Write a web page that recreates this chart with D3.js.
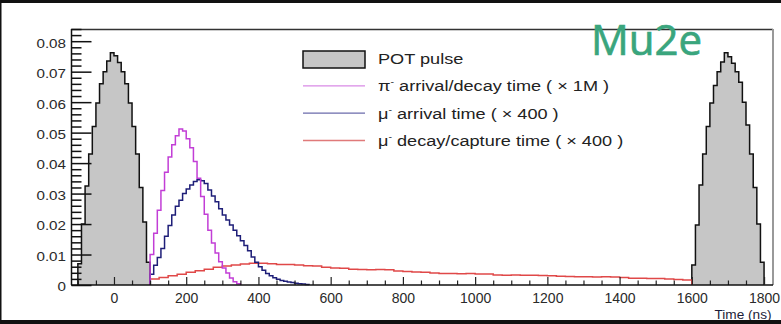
<!DOCTYPE html>
<html>
<head>
<meta charset="utf-8">
<script src="https://cdn.jsdelivr.net/npm/d3@7"></script>
<style>
  html, body { margin: 0; padding: 0; background: #fff; }
  svg { display: block; }
</style>
</head>
<body>
<div id="chart"></div>
<script>
// ---------------- data ----------------
const xTickValues = [0, 200, 400, 600, 800, 1000, 1200, 1400, 1600, 1800];
const yTickValues = [0, 0.01, 0.02, 0.03, 0.04, 0.05, 0.06, 0.07, 0.08];
const yTickLabels = ["0", "0.01", "0.02", "0.03", "0.04", "0.05", "0.06", "0.07", "0.08"];

// POT pulse histograms (10 ns bins)
const potBin = 10;
const potLeftStart = -100;
const potLeft = [0.0070, 0.0200, 0.0325, 0.0430, 0.0520, 0.0597, 0.0660, 0.0700, 0.0735, 0.0762,
                 0.0752, 0.0730, 0.0700, 0.0660, 0.0597, 0.0520, 0.0430, 0.0320, 0.0207, 0.0075];
const potRightStart = 1600;
const potRight = [0.0066, 0.0197, 0.0328, 0.0430, 0.0520, 0.0597, 0.0655, 0.0700, 0.0732, 0.0762,
                  0.0749, 0.0728, 0.0700, 0.0665, 0.0600, 0.0525, 0.0430, 0.0320, 0.0200, 0.0075];

// pi- arrival/decay time (x 1M), 10 ns bins from 100 ns
const piStart = 100, piBin = 10;
const piValues = [0.0100, 0.0170, 0.0245, 0.0310, 0.0370, 0.0420, 0.0460, 0.0490, 0.0512, 0.0505,
                  0.0480, 0.0450, 0.0405, 0.0350, 0.0290, 0.0232, 0.0180, 0.0138, 0.0105, 0.0076,
                  0.0056, 0.0039, 0.0023, 0.0011, 0.0004];

// mu- arrival time (x 400), 10 ns bins from 100 ns
const muArrStart = 100, muArrBin = 10;
const muArrValues = [0.0035, 0.0065, 0.0090, 0.0120, 0.0160, 0.0195, 0.0230, 0.0258, 0.0278, 0.0300,
                     0.0315, 0.0328, 0.0340, 0.0345, 0.0342, 0.0333, 0.0312, 0.0292, 0.0273, 0.0250,
                     0.0230, 0.0213, 0.0197, 0.0180, 0.0162, 0.0145, 0.0130, 0.0112, 0.0092, 0.0075,
                     0.0060, 0.0048, 0.0038, 0.0030, 0.0024, 0.0019, 0.0015, 0.0012, 0.0010, 0.0008,
                     0.0006, 0.0004, 0.0003, 0.0002];

// mu- decay/capture time (x 400), 25 ns bins from 100 ns
const muDecStart = 100, muDecBin = 25;
const muDecValues = [0.0020, 0.0025, 0.0030, 0.0035, 0.0042, 0.0047, 0.0052, 0.0058, 0.0062, 0.0066,
                     0.0069, 0.0071, 0.0071, 0.0070, 0.0067, 0.0067, 0.0066, 0.0063, 0.0062, 0.0058,
                     0.0056, 0.0055, 0.0052, 0.0051, 0.0050, 0.0051, 0.0050, 0.0046, 0.0044, 0.0043,
                     0.0042, 0.0039, 0.0038, 0.0038, 0.0037, 0.0038, 0.0036, 0.0036, 0.0033, 0.0032,
                     0.0033, 0.0032, 0.0032, 0.0031, 0.0030, 0.0029, 0.0028, 0.0027, 0.0027, 0.0026,
                     0.0027, 0.0026, 0.0025, 0.0022, 0.0022, 0.0021, 0.0021, 0.0020, 0.0018, 0.0016];

const legendLabels = ["POT pulse", "arrival/decay time ( \u00d7 1M )", "arrival time ( \u00d7 400 )", "decay/capture time ( \u00d7 400 )"];
const legendSymbols = ["", "\u03c0", "\u03bc", "\u03bc"];

// ---------------- drawing ----------------
const W = 781, H = 324;
const SX = 1.17; // horizontal text stretch seen in the picture
const FONT = "'Liberation Sans', Arial, Helvetica, sans-serif";

const svg = d3.select("#chart").append("svg").attr("width", W).attr("height", H);
svg.append("rect").attr("width", W).attr("height", H).attr("fill", "#fff");

const x = d3.scaleLinear().domain([-119, 1822]).range([71, 772]);
const y = d3.scaleLinear().domain([0, 0.084]).range([285, 29]);

function histPoints(start, bin, vals) {
  const pts = [[start, 0]];
  vals.forEach((v, i) => { pts.push([start + i * bin, v]); pts.push([start + (i + 1) * bin, v]); });
  pts.push([start + vals.length * bin, 0]);
  return pts;
}
const line = d3.line().x(d => x(d[0])).y(d => y(d[1]));
const area = d3.area().x(d => x(d[0])).y0(y(0)).y1(d => y(d[1]));

// POT pulses
[[potLeftStart, potLeft], [potRightStart, potRight]].forEach(([s, vals]) => {
  const pts = histPoints(s, potBin, vals);
  svg.append("path").attr("d", area(pts)).attr("fill", "#c6c6c6");
  svg.append("path").attr("d", line(pts)).attr("fill", "none").attr("stroke", "#111").attr("stroke-width", 1.5);
});

// series
const series = [
  { s: muDecStart, b: muDecBin, v: muDecValues, c: "#e04848" },
  { s: muArrStart, b: muArrBin, v: muArrValues, c: "#1e1e78" },
  { s: piStart, b: piBin, v: piValues, c: "#c23ed6" }
];
series.forEach(d => {
  svg.append("path").attr("d", line(histPoints(d.s, d.b, d.v)))
    .attr("fill", "none").attr("stroke", d.c).attr("stroke-width", 1.5).attr("stroke-linejoin", "miter");
});

// frame
svg.append("line").attr("x1", 71).attr("x2", 773).attr("y1", 29.5).attr("y2", 29.5).attr("stroke", "#333").attr("stroke-width", 1.5);
svg.append("line").attr("x1", 773).attr("x2", 773).attr("y1", 29).attr("y2", 285).attr("stroke", "#999").attr("stroke-width", 2);

// x axis
const xMinor = d3.range(-100, 1801, 50).filter(v => v % 200 !== 0);
const gxm = svg.append("g").attr("transform", "translate(0,285)")
  .call(d3.axisBottom(x).tickValues(xMinor).tickSize(-4.5).tickFormat(""));
gxm.select(".domain").remove();
gxm.selectAll("line").attr("stroke", "#222").attr("stroke-width", 1.2);
const gx = svg.append("g").attr("transform", "translate(0,285)")
  .call(d3.axisBottom(x).tickValues(xTickValues).tickSize(-8).tickPadding(8).tickFormat(d3.format("d")));
gx.select(".domain").attr("stroke", "#111").attr("stroke-width", 1.5).attr("d", `M71,0H773`);
gx.selectAll("line").attr("stroke", "#222").attr("stroke-width", 1.2);
gx.selectAll("text").attr("font-family", FONT).attr("font-size", 14).attr("fill", "#2a2a2a");

// y axis
const yMinor = d3.range(0, 0.0841, 0.002).filter(v => Math.abs(v * 100 - Math.round(v * 100)) > 1e-6);
const gym = svg.append("g").attr("transform", "translate(71.5,0)")
  .call(d3.axisLeft(y).tickValues(yMinor).tickSize(-10).tickFormat(""));
gym.select(".domain").remove();
gym.selectAll("line").attr("stroke", "#111").attr("stroke-width", 1.5);
const gy = svg.append("g").attr("transform", "translate(71.5,0)")
  .call(d3.axisLeft(y).tickValues(yTickValues).tickSize(-20).tickPadding(5.5)
    .tickFormat((d, i) => yTickLabels[i]));
gy.select(".domain").attr("stroke", "#111").attr("stroke-width", 1.5).attr("d", "M0,285V29");
gy.selectAll("line").attr("stroke", "#111").attr("stroke-width", 1.5);
gy.selectAll("text").attr("font-family", FONT).attr("font-size", 13).attr("fill", "#2a2a2a")
  .attr("dy", "0.45em").attr("x", -5.5 / SX).attr("transform", `scale(${SX},1)`);

// axis title
svg.append("g").attr("transform", `translate(771.5,319) scale(1.05,1)`)
  .append("text").attr("text-anchor", "end").attr("font-family", FONT).attr("font-size", 13)
  .attr("fill", "#1c1c38").text("Time (ns)");

// legend
const legX0 = 303, legX1 = 365, legTextX = 378;
const rowBase = [64, 91.3, 118.6, 146];
svg.append("rect").attr("x", legX0).attr("y", 51).attr("width", legX1 - legX0).attr("height", 17)
  .attr("fill", "#c6c6c6").attr("stroke", "#111").attr("stroke-width", 1.5);
const legColors = [null, "#d98ae6", "#6b6bab", "#e07a7a"];
for (let i = 1; i < 4; i++) {
  svg.append("line").attr("x1", legX0).attr("x2", legX1).attr("y1", rowBase[i] - 5.5).attr("y2", rowBase[i] - 5.5)
    .attr("stroke", legColors[i]).attr("stroke-width", 1.3);
}
legendLabels.forEach((lab, i) => {
  const t = svg.append("g").attr("transform", `translate(${legTextX},${rowBase[i]}) scale(${SX},1)`)
    .append("text").attr("font-family", FONT).attr("font-size", 15.5).attr("fill", "#222");
  if (legendSymbols[i]) {
    t.append("tspan").text(legendSymbols[i]);
    t.append("tspan").attr("dy", -6).attr("font-size", 9).text("-");
    t.append("tspan").attr("dy", 6).text(" " + lab);
  } else {
    t.text(lab);
  }
});

// Mu2e label
svg.append("text").attr("x", 591).attr("y", 55).attr("font-family", "'Open Sans', 'Noto Sans', sans-serif")
  .attr("font-size", 42).attr("fill", "#3aa57d").attr("stroke", "#3aa57d").attr("stroke-width", 0.7)
  .text("Mu2e");

// image borders
svg.append("rect").attr("x", 0).attr("y", 0).attr("width", W).attr("height", 3).attr("fill", "#111");
svg.append("rect").attr("x", 0).attr("y", 320).attr("width", W).attr("height", 4).attr("fill", "#111");
svg.append("rect").attr("x", 0).attr("y", 0).attr("width", 1.5).attr("height", H).attr("fill", "#111");
</script>
</body>
</html>
